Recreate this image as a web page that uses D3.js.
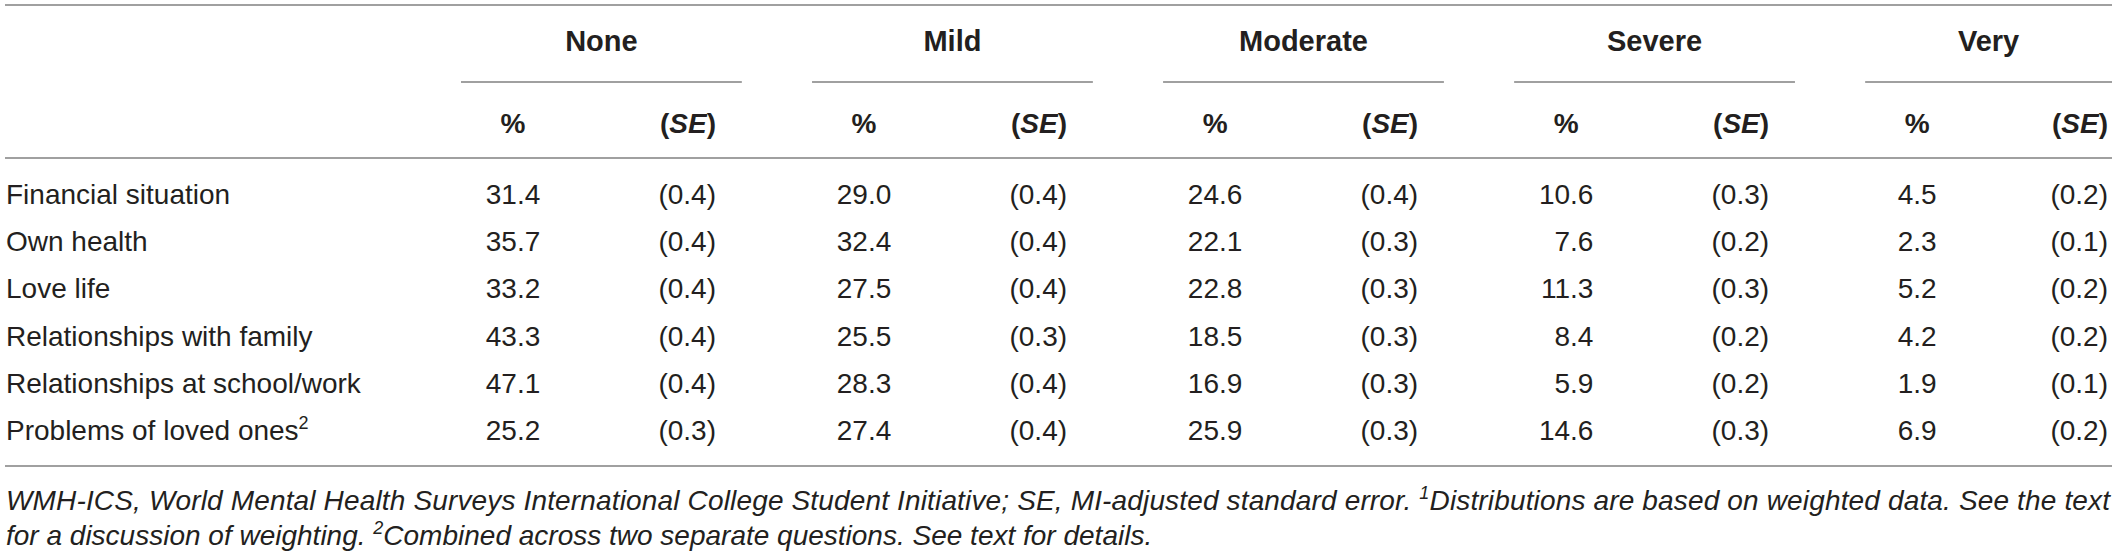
<!DOCTYPE html>
<html>
<head>
<meta charset="utf-8">
<script src="https://cdn.jsdelivr.net/npm/d3@7"></script>
<style>
  html, body { margin: 0; padding: 0; background: #fff; }
  svg { display: block; font-family: "Liberation Sans", Arial, Helvetica, sans-serif; }
</style>
</head>
<body>
<svg></svg>
<script>
// table content
const categories = ["None", "Mild", "Moderate", "Severe", "Very"];
const rowLabels = ["Financial situation", "Own health", "Love life",
  "Relationships with family", "Relationships at school/work", "Problems of loved ones"];
const rowNotes = ["", "", "", "", "", "2"];

const pctNone = [31.4, 35.7, 33.2, 43.3, 47.1, 25.2];
const seNone = [0.4, 0.4, 0.4, 0.4, 0.4, 0.3];
const pctMild = [29.0, 32.4, 27.5, 25.5, 28.3, 27.4];
const seMild = [0.4, 0.4, 0.4, 0.3, 0.4, 0.4];
const pctModerate = [24.6, 22.1, 22.8, 18.5, 16.9, 25.9];
const seModerate = [0.4, 0.3, 0.3, 0.3, 0.3, 0.3];
const pctSevere = [10.6, 7.6, 11.3, 8.4, 5.9, 14.6];
const seSevere = [0.3, 0.2, 0.3, 0.2, 0.2, 0.3];
const pctVery = [4.5, 2.3, 5.2, 4.2, 1.9, 6.9];
const seVery = [0.2, 0.1, 0.2, 0.2, 0.1, 0.2];

const pctByCat = [pctNone, pctMild, pctModerate, pctSevere, pctVery];
const seByCat = [seNone, seMild, seModerate, seSevere, seVery];

const width = 2117, height = 557;
const left = 5, right = 2112;
const textColor = "#231f20", ruleColor = "#808080";
const fs = 28;

const svg = d3.select("svg")
    .attr("width", width)
    .attr("height", height);

// scales
const x = d3.scaleBand()
    .domain(categories)
    .range([461, 2146])
    .paddingInner(0.2);

const y = d3.scaleLinear()
    .domain([0, rowLabels.length - 1])
    .range([204, 440]);

const fmt = d3.format(".1f");

// horizontal rules
const rules = [5, 158, 466];
svg.selectAll("line.rule")
  .data(rules)
  .join("line")
    .attr("class", "rule")
    .attr("x1", left).attr("x2", right)
    .attr("y1", d => d).attr("y2", d => d)
    .attr("stroke", ruleColor)
    .attr("stroke-width", 1.6);

const groupEnd = c => Math.min(x(c) + x.bandwidth(), right);
const pctCenter = c => x(c) + 52;
const seRight = c => Math.min(x(c) + 255, right - 4);

// group headers
const gHead = svg.append("g")
    .attr("font-weight", "bold")
    .attr("font-size", 29)
    .attr("fill", textColor);

gHead.selectAll("text")
  .data(categories)
  .join("text")
    .attr("x", c => (x(c) + groupEnd(c)) / 2)
    .attr("y", 51)
    .attr("text-anchor", "middle")
    .text(c => c);

svg.selectAll("line.under")
  .data(categories)
  .join("line")
    .attr("class", "under")
    .attr("x1", c => x(c)).attr("x2", c => groupEnd(c))
    .attr("y1", 82).attr("y2", 82)
    .attr("stroke", ruleColor)
    .attr("stroke-width", 1.6);

// sub headers
const gSub = svg.append("g")
    .attr("font-weight", "bold")
    .attr("font-size", fs)
    .attr("fill", textColor);

gSub.selectAll("text.pct")
  .data(categories)
  .join("text")
    .attr("class", "pct")
    .attr("x", pctCenter)
    .attr("y", 133)
    .attr("text-anchor", "middle")
    .text("%");

const seHead = gSub.selectAll("text.se")
  .data(categories)
  .join("text")
    .attr("class", "se")
    .attr("x", seRight)
    .attr("y", 133)
    .attr("text-anchor", "end");
seHead.append("tspan").text("(");
seHead.append("tspan").attr("font-style", "italic").text("SE");
seHead.append("tspan").text(")");

// row labels
const gRows = svg.append("g")
    .attr("font-size", fs)
    .attr("fill", textColor);

const labels = gRows.selectAll("text.label")
  .data(rowLabels)
  .join("text")
    .attr("class", "label")
    .attr("x", 6)
    .attr("y", (d, i) => y(i));
labels.append("tspan").text(d => d);
labels.append("tspan")
    .attr("font-size", 18)
    .attr("dy", -11)
    .text((d, i) => rowNotes[i]);

// values
categories.forEach((c, ci) => {
  const pct = pctByCat[ci];
  const se = seByCat[ci];
  const g = gRows.append("g");

  const pctText = g.selectAll("text.v")
    .data(pct)
    .join("text")
      .attr("class", "v")
      .attr("y", (d, i) => y(i))
      .attr("text-anchor", "end")
      .text(d => fmt(d));

  // right-align numbers inside a block centred under "%"
  const maxW = d3.max(pctText.nodes(), n => n.getComputedTextLength());
  pctText.attr("x", pctCenter(c) + maxW / 2);

  g.selectAll("text.s")
    .data(se)
    .join("text")
      .attr("class", "s")
      .attr("x", seRight(c))
      .attr("y", (d, i) => y(i))
      .attr("text-anchor", "end")
      .text(d => `(${fmt(d)})`);
});

// footnote
const gNote = svg.append("g")
    .attr("font-size", fs)
    .attr("font-style", "italic")
    .attr("fill", textColor);

const note1 = gNote.append("text")
    .attr("x", 6)
    .attr("y", 510)
    .attr("textLength", right - 2 - 6)
    .attr("lengthAdjust", "spacing");
note1.append("tspan").text("WMH-ICS, World Mental Health Surveys International College Student Initiative; SE, MI-adjusted standard error. ");
note1.append("tspan").attr("font-size", 18).attr("dy", -11).text("1");
note1.append("tspan").attr("dy", 11).text("Distributions are based on weighted data. See the text");

const note2 = gNote.append("text")
    .attr("x", 6)
    .attr("y", 545);
note2.append("tspan").text("for a discussion of weighting. ");
note2.append("tspan").attr("font-size", 18).attr("dy", -11).text("2");
note2.append("tspan").attr("dy", 11).text("Combined across two separate questions. See text for details.");
</script>
</body>
</html>
